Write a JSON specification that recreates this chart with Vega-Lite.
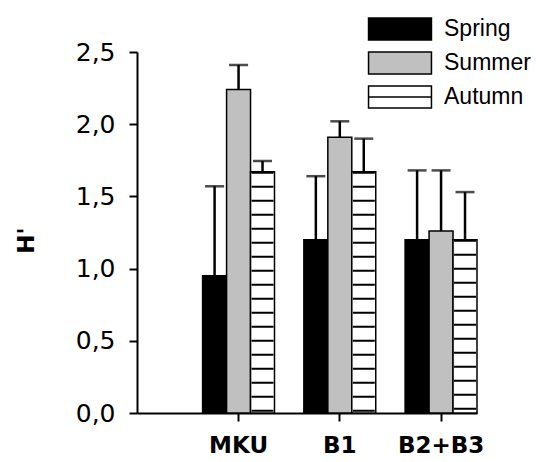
{
  "$schema": "https://vega.github.io/schema/vega-lite/v6.json",
  "width": 340,
  "height": 361,
  "autosize": {"type": "none"},
  "padding": {"left": 137, "top": 52, "right": 62, "bottom": 49},
  "background": "white",
  "config": {
    "view": {"stroke": null},
    "font": "Liberation Sans"
  },
  "data": {
    "values": [
      {"site": "MKU", "season": "Spring", "mean": 0.95, "upper": 1.57},
      {"site": "MKU", "season": "Summer", "mean": 2.24, "upper": 2.41},
      {"site": "MKU", "season": "Autumn", "mean": 1.67, "upper": 1.745},
      {"site": "B1", "season": "Spring", "mean": 1.2, "upper": 1.64},
      {"site": "B1", "season": "Summer", "mean": 1.91, "upper": 2.02},
      {"site": "B1", "season": "Autumn", "mean": 1.67, "upper": 1.9},
      {"site": "B2+B3", "season": "Spring", "mean": 1.2, "upper": 1.68},
      {"site": "B2+B3", "season": "Summer", "mean": 1.26, "upper": 1.68},
      {"site": "B2+B3", "season": "Autumn", "mean": 1.2, "upper": 1.53}
    ]
  },
  "encoding": {
    "x": {
      "field": "site",
      "type": "nominal",
      "sort": ["MKU", "B1", "B2+B3"],
      "scale": {"paddingInner": 0.29, "paddingOuter": 0.324, "align": 1},
      "axis": {
        "title": null,
        "labelAngle": 0,
        "labelFont": "DejaVu Sans",
        "labelFontSize": 23,
        "labelFontWeight": "bold",
        "labelColor": "black",
        "labelPadding": 13,
        "domainColor": "black",
        "domainWidth": 2,
        "tickColor": "black",
        "tickWidth": 2,
        "tickSize": 8
      }
    },
    "xOffset": {
      "field": "season",
      "type": "nominal",
      "sort": ["Spring", "Summer", "Autumn"],
      "scale": {"domain": ["Spring", "Summer", "Autumn"], "paddingInner": 0, "paddingOuter": 0}
    }
  },
  "layer": [
    {
      "mark": {"type": "bar", "stroke": "black", "strokeWidth": 1.5},
      "encoding": {
        "y": {
          "field": "mean",
          "type": "quantitative",
          "scale": {"domain": [0, 2.5], "nice": false},
          "axis": {
            "title": "H'",
            "titleFont": "DejaVu Sans",
            "titleFontSize": 23,
            "titleFontWeight": "bold",
            "titleColor": "black",
            "titleAngle": 270,
            "titleX": -111,
            "titleY": 188,
            "titleAlign": "center",
            "titleBaseline": "middle",
            "values": [0, 0.5, 1, 1.5, 2, 2.5],
            "labelExpr": "replace(format(datum.value, '.1f'), '.', ',')",
            "labelFont": "DejaVu Sans",
            "labelFontSize": 25,
            "labelColor": "black",
            "labelPadding": 14,
            "grid": false,
            "domainColor": "black",
            "domainWidth": 2,
            "tickColor": "black",
            "tickWidth": 2,
            "tickSize": 8
          }
        },
        "fill": {
          "field": "season",
          "type": "nominal",
          "scale": {"domain": ["Spring", "Summer", "Autumn"], "range": ["#000000", "#c0c0c0", "#ffffff"]},
          "legend": {
            "title": null,
            "orient": "none",
            "legendX": 251,
            "legendY": -35,
            "padding": 0,
            "symbolSize": 484,
            "symbolStrokeColor": "black",
            "symbolStrokeWidth": 1.5,
            "labelFont": "Liberation Sans",
            "labelFontSize": 23,
            "labelColor": "black",
            "labelOffset": 32,
            "rowPadding": 6,
            "encode": {
              "symbols": {
                "update": {
                  "shape": {"signal": "datum.value === 'Autumn' ? 'M-2.86,-1L2.86,-1L2.86,1L-2.86,1Z M-2.86,0L2.86,0' : 'M-2.86,-1L2.86,-1L2.86,1L-2.86,1Z'"},
                  "stroke": {"value": "black"},
                  "strokeWidth": {"value": 1.5}
                }
              }
            }
          }
        }
      }
    },
    {
      "transform": [{"filter": "datum.season === 'Autumn'"}],
      "mark": {"type": "rule", "color": "black", "strokeWidth": 22, "strokeDash": [2, 12], "strokeCap": "butt"},
      "encoding": {
        "y": {"field": "mean", "type": "quantitative"},
        "y2": {"datum": 0}
      }
    },
    {
      "mark": {"type": "rule", "color": "black", "strokeWidth": 2.5},
      "encoding": {
        "y": {"field": "mean", "type": "quantitative"},
        "y2": {"field": "upper"}
      }
    },
    {
      "mark": {"type": "tick", "color": "black", "thickness": 2.5, "size": 19, "orient": "horizontal"},
      "encoding": {
        "y": {"field": "upper", "type": "quantitative"}
      }
    }
  ]
}
